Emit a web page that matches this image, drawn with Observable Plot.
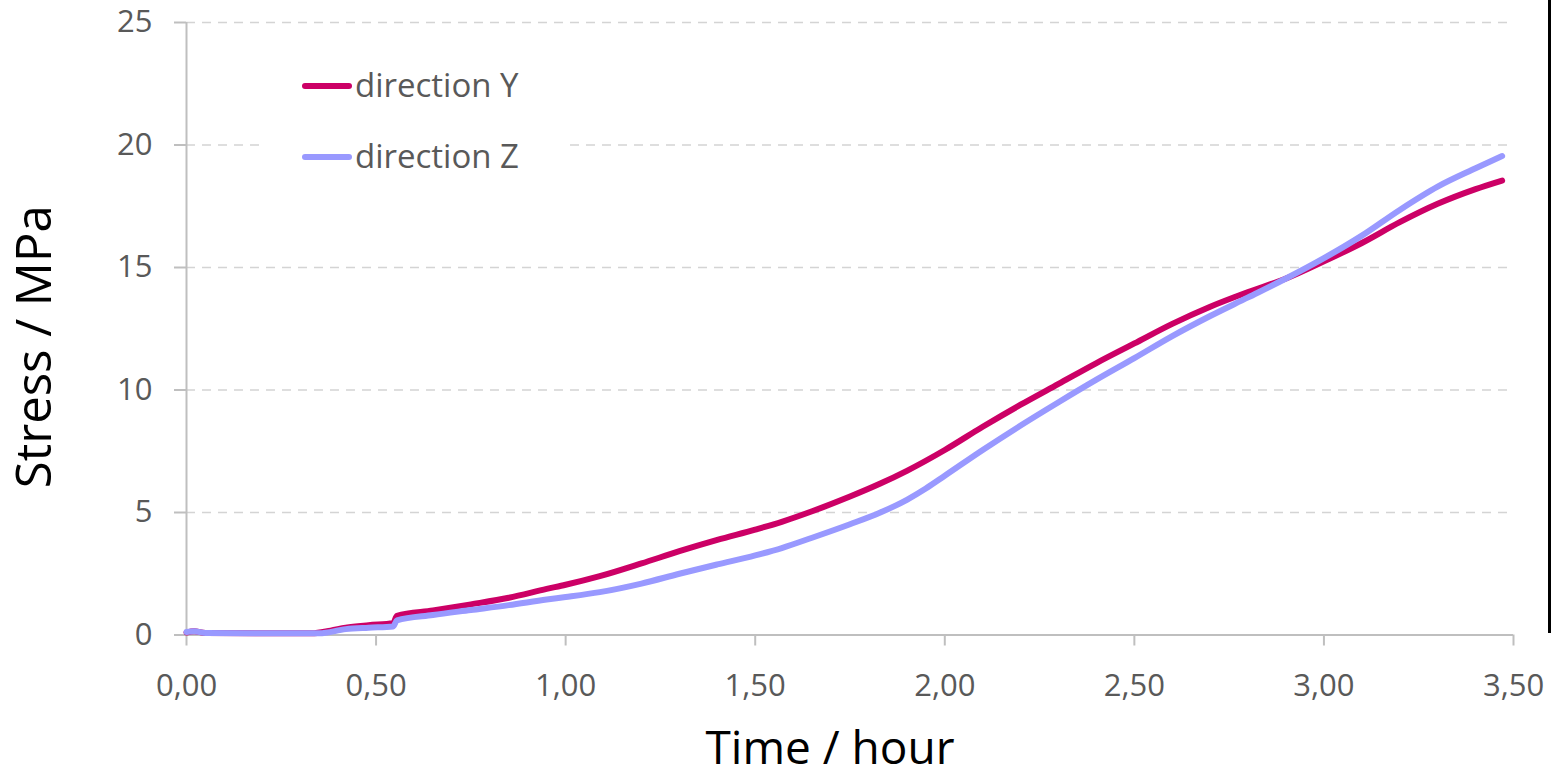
<!DOCTYPE html>
<html>
<head>
<meta charset="utf-8">
<script src="https://cdn.jsdelivr.net/npm/d3@7"></script>
<script src="https://cdn.jsdelivr.net/npm/@observablehq/plot@0.6"></script>
<style>
  html, body { margin: 0; padding: 0; background: #fff; }
  #wrap { position: relative; width: 1552px; height: 778px; overflow: hidden; font-family: "Open Sans", sans-serif; }
  #legend { position: absolute; left: 262px; top: 52px; width: 306px; height: 128px; background: #fff; }
  .item { position: absolute; left: 0; height: 40px; }
  .swatch { position: absolute; left: 40px; width: 50px; height: 6px; border-radius: 3px; }
  .lab { position: absolute; left: 93px; font-size: 33px; color: #595959; white-space: nowrap; line-height: 40px; }
  #frameRight { position: absolute; left: 1548px; top: 0; width: 3px; height: 633px; background: #000; }
</style>
</head>
<body>
<div id="wrap"></div>
<script>
// Time (hour) and stress (MPa) values
const timeY   = [0.00, 0.02, 0.05, 0.33, 0.38, 0.42, 0.48, 0.545, 0.555, 0.65, 0.75, 0.85, 0.95, 1.00, 1.09, 1.20, 1.30, 1.40, 1.50, 1.57, 1.65, 1.75, 1.83, 1.90, 2.00, 2.10, 2.20, 2.30, 2.40, 2.50, 2.60, 2.70, 2.80, 2.90, 3.00, 3.10, 3.20, 3.30, 3.40, 3.47];
const stressY = [0.10, 0.15, 0.08, 0.07, 0.18, 0.30, 0.40, 0.48, 0.78, 1.00, 1.25, 1.52, 1.88, 2.05, 2.40, 2.92, 3.42, 3.88, 4.30, 4.62, 5.05, 5.65, 6.18, 6.70, 7.55, 8.50, 9.40, 10.25, 11.10, 11.90, 12.70, 13.40, 14.00, 14.55, 15.25, 16.00, 16.85, 17.60, 18.20, 18.55];
const timeZ   = [0.00, 0.02, 0.05, 0.35, 0.42, 0.48, 0.545, 0.555, 0.65, 0.75, 0.85, 0.95, 1.00, 1.09, 1.20, 1.30, 1.40, 1.50, 1.57, 1.65, 1.75, 1.83, 1.90, 1.95, 2.00, 2.10, 2.20, 2.30, 2.40, 2.50, 2.60, 2.70, 2.80, 2.90, 3.00, 3.10, 3.20, 3.30, 3.40, 3.47];
const stressZ = [0.12, 0.15, 0.08, 0.07, 0.24, 0.30, 0.35, 0.60, 0.82, 1.02, 1.22, 1.45, 1.55, 1.75, 2.10, 2.50, 2.88, 3.25, 3.55, 3.97, 4.52, 5.00, 5.52, 5.98, 6.50, 7.55, 8.55, 9.50, 10.42, 11.30, 12.20, 13.02, 13.78, 14.55, 15.38, 16.30, 17.35, 18.30, 19.05, 19.55];
const seriesNames = ["direction Y", "direction Z"];
const seriesColors = ["#cc0066", "#9999ff"];
const xTicks = [0, 0.5, 1, 1.5, 2, 2.5, 3, 3.5];
const yTicks = [0, 5, 10, 15, 20, 25];
const xTitle = "Time / hour";
const yTitle = "Stress / MPa";

const dataY = timeY.map((t, i) => ({t, s: stressY[i]}));
const dataZ = timeZ.map((t, i) => ({t, s: stressZ[i]}));
const fmt = d => d.toFixed(2).replace(".", ",");

const chart = Plot.plot({
  width: 1552,
  height: 778,
  marginLeft: 186,
  marginRight: 39,
  marginTop: 22,
  marginBottom: 143.5,
  style: {fontFamily: "'Open Sans', sans-serif", background: "#fff", overflow: "visible"},
  x: {domain: [0, 3.5]},
  y: {domain: [0, 25]},
  marks: [
    Plot.gridY(yTicks.filter(d => d > 0), {stroke: "#d4d4d4", strokeOpacity: 1, strokeWidth: 1.5, strokeDasharray: "9,7"}),
    Plot.axisX({ticks: xTicks, tickFormat: fmt, tickSize: 11, tickPadding: 28, stroke: "#bfbfbf", strokeWidth: 2, fill: "#595959", fontSize: 31, label: null}),
    Plot.axisY({ticks: yTicks, tickFormat: d => String(d), tickSize: 12, tickPadding: 22, stroke: "#bfbfbf", strokeWidth: 2, fill: "#595959", fontSize: 31, label: null}),
    Plot.ruleY([0], {stroke: "#bfbfbf", strokeWidth: 2}),
    Plot.ruleX([0], {stroke: "#bfbfbf", strokeWidth: 2}),
    Plot.line(dataY, {x: "t", y: "s", stroke: seriesColors[0], strokeWidth: 6, curve: "monotone-x", strokeLinecap: "round", strokeLinejoin: "round"}),
    Plot.line(dataZ, {x: "t", y: "s", stroke: seriesColors[1], strokeWidth: 6, curve: "monotone-x", strokeLinecap: "round", strokeLinejoin: "round"}),
    Plot.text([xTitle], {frameAnchor: "bottom", text: d => d, textAnchor: "middle", dx: -20, dy: 129, lineAnchor: "bottom", fontSize: 46, fill: "#000"}),
    Plot.text([yTitle], {frameAnchor: "left", text: d => d, textAnchor: "middle", rotate: -90, dx: -136, dy: 18, lineAnchor: "bottom", fontSize: 49, fill: "#000"})
  ]
});

const wrap = document.getElementById("wrap");
wrap.appendChild(chart);

const legend = document.createElement("div");
legend.id = "legend";
seriesNames.forEach((name, i) => {
  const item = document.createElement("div");
  item.className = "item";
  item.style.top = (i === 0 ? 14 : 85) + "px";
  item.style.width = "306px";
  const sw = document.createElement("div");
  sw.className = "swatch";
  sw.style.background = seriesColors[i];
  sw.style.top = "17px";
  const lab = document.createElement("div");
  lab.className = "lab";
  lab.textContent = name;
  lab.style.top = "-1px";
  item.appendChild(sw);
  item.appendChild(lab);
  legend.appendChild(item);
});
wrap.appendChild(legend);

const fr = document.createElement("div");
fr.id = "frameRight";
wrap.appendChild(fr);
</script>
</body>
</html>
